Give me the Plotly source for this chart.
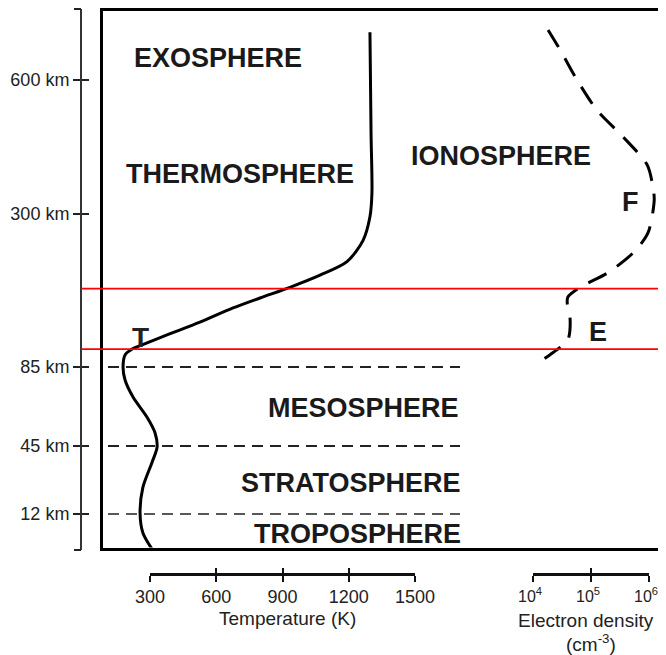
import numpy as np
import plotly.graph_objects as go

# ---------------- data ----------------
ALT_TICK_KM = [12, 45, 85, 300, 600]
ALT_TICK_LABELS = ["12 km", "45 km", "85 km", "300 km", "600 km"]

TEMP_TICKS_K = [300, 600, 900, 1200, 1500]
DENSITY_TICKS = [1e4, 1e5, 1e6]
DENSITY_TICK_LABELS = ["10<sup>4</sup>", "10<sup>5</sup>", "10<sup>6</sup>"]

# temperature profile (altitude km, temperature K)
TEMP_ALT_KM = [0, 5.5, 12.5, 25, 37, 44.5, 51.6, 59.7, 69.8, 78.4, 85, 102, 110, 116,
               130, 148, 168, 182, 197, 214, 233, 263, 296, 347, 481, 707]
TEMP_K = [309, 268, 255, 268, 309, 332, 323, 286, 223, 187, 178, 187, 218, 264,
          377, 526, 676, 798, 934, 1070, 1192, 1265, 1296, 1305, 1301, 1296]

# electron density profile (altitude km, cm^-3), from the top down
DENS_ALT_KM = [712, 667, 600, 533, 473, 410, 360, 331, 273, 245, 217, 197, 183, 175,
               151, 123, 105, 91]
DENS_CM3 = [1.82e4, 2.95e4, 5.75e4, 1.26e5, 3.55e5, 9.3e5, 1.17e6, 1.23e6, 9.55e5,
            5.25e5, 1.91e5, 6.46e4, 3.98e4, 3.89e4, 4.37e4, 3.98e4, 2.19e4, 1.23e4]

LAYER_BOUNDARY_KM = [12, 45, 85]
MARKED_ALT_KM = [110, 195]

LAYER_LABELS = ["EXOSPHERE", "THERMOSPHERE", "IONOSPHERE", "MESOSPHERE",
                "STRATOSPHERE", "TROPOSPHERE"]
REGION_LABELS = ["F", "E"]
TURBOPAUSE_LABEL = "T"

# ---------------- layout helpers (page pixels) ----------------
OFF = 8                      # default page margin around the figure
W, H = 666 - OFF, 655 - OFF  # figure size so that it ends at the window edge
FONT = "Liberation Sans, Arial, Helvetica, sans-serif"
TXT = "#222222"


def fx(px):
    return (px - OFF) / W


def fy(py):
    return 1 - (py - OFF) / H


# schematic (piecewise-linear) altitude scale: km -> page row
SCALE_KM = [0, 12, 45, 85, 300, 600, 761]
SCALE_ROW = [549, 514, 446, 367, 214, 80, 8]
GROUND = 549


def alt(km):
    return GROUND - np.interp(np.asarray(km, dtype=float), SCALE_KM, SCALE_ROW)


def yspan(top_row, bot_row):
    return dict(domain=[fy(bot_row), fy(top_row)], range=[GROUND - bot_row, GROUND - top_row])


# temperature scale: 300 K at px 150, 1500 K at px 415
KPP = 1200 / 265.0
FRAME_L = 103
T_RANGE = [300 + (FRAME_L - 150) * KPP, 300 + (666 - 150) * KPP]
# density scale (log): 1e4 at px 533, 1e6 at px 649
DPP = 2 / 116.0
D_RANGE = [4 + (FRAME_L - 533) * DPP, 4 + (666 - 533) * DPP]

fig = go.Figure()

fig.add_trace(go.Scatter(
    x=TEMP_K, y=alt(TEMP_ALT_KM), mode="lines", xaxis="x", yaxis="y",
    line=dict(color="black", width=3, shape="spline", smoothing=0.8),
    hoverinfo="skip", showlegend=False))

fig.add_trace(go.Scatter(
    x=DENS_CM3, y=alt(DENS_ALT_KM), mode="lines", xaxis="x2", yaxis="y",
    line=dict(color="black", width=3, dash="20px,13px", shape="spline", smoothing=0.8),
    hoverinfo="skip", showlegend=False))

# empty traces so that every decorative axis gets a subplot
for xa, ya in [("x3", "y"), ("x4", "y"), ("x5", "y"), ("x6", "y"),
               ("x", "y2"), ("x", "y3"), ("x", "y4")]:
    fig.add_trace(go.Scatter(x=[None], y=[None], xaxis=xa, yaxis=ya,
                             showlegend=False, hoverinfo="skip"))

tickfont = dict(family=FONT, size=18, color=TXT)
base = dict(showgrid=False, zeroline=False, fixedrange=True, automargin=False)

AX_ROWS = (9, 550)          # visible altitude axis extent (page rows)
alt_axis = dict(yspan(*AX_ROWS), anchor="free", position=fx(81), side="left")
end_vals = [GROUND - AX_ROWS[1], GROUND - AX_ROWS[0]]

temp_axis = dict(domain=[fx(150), fx(415)], range=[300, 1500], anchor="free",
                 position=fy(574), tickvals=TEMP_TICKS_K, ticklen=6, tickwidth=1.6,
                 tickcolor="#111")
dens_axis = dict(domain=[fx(533), fx(649)], type="log", range=[4, 6], anchor="free",
                 position=fy(574), tickvals=DENSITY_TICKS, ticklen=6, tickwidth=1.6,
                 tickcolor="#111")

fig.update_layout(
    width=W, height=H, margin=dict(l=0, r=0, t=0, b=0, pad=0),
    paper_bgcolor="white", plot_bgcolor="rgba(0,0,0,0)",
    showlegend=False,
    xaxis=dict(domain=[fx(FRAME_L), 1], range=T_RANGE, showline=True, mirror=True,
               linecolor="black", linewidth=3, ticks="", showticklabels=False, **base),
    xaxis2=dict(type="log", overlaying="x", range=D_RANGE, visible=False, **base),
    yaxis=dict(yspan(10.5, 547.5), showline=True, linecolor="black", linewidth=3,
               ticks="", showticklabels=False, **base),
    xaxis3=dict(temp_axis, showline=True, linewidth=2.5, linecolor="#111",
                ticks="outside", tickfont=tickfont, ticklabelstandoff=0, **base),
    xaxis4=dict(temp_axis, showline=False, ticks="inside", showticklabels=False, **base),
    xaxis5=dict(dens_axis, showline=True, linewidth=2.5, linecolor="#111",
                ticks="outside", ticktext=DENSITY_TICK_LABELS,
                tickfont=dict(family=FONT, size=16, color=TXT), ticklabelstandoff=1,
                ticklabelshift=-3, **base),
    xaxis6=dict(dens_axis, showline=False, ticks="inside", showticklabels=False, **base),
    yaxis2=dict(alt_axis, showline=True, linewidth=2, linecolor="#333",
                ticks="outside", ticklen=7, tickwidth=1.8, tickcolor="#222",
                tickvals=list(alt(ALT_TICK_KM)), ticktext=ALT_TICK_LABELS,
                tickfont=tickfont, **base),
    yaxis3=dict(alt_axis, showline=False, ticks="inside", ticklen=7, tickwidth=1.8,
                tickcolor="#222", tickvals=list(alt(ALT_TICK_KM)) + end_vals,
                showticklabels=False, **base),
    yaxis4=dict(alt_axis, showline=False, ticks="outside", ticklen=7, tickwidth=1.8,
                tickcolor="#222", tickvals=end_vals, showticklabels=False, **base),
)

# layer boundaries (dashed)
for km in LAYER_BOUNDARY_KM:
    fig.add_shape(type="line", xref="paper", yref="y", x0=fx(108), x1=fx(460),
                  y0=float(alt(km)), y1=float(alt(km)),
                  line=dict(color="#222", width=1.6 if km == 12 else 2.2, dash="11px,7px"))

# red marker lines
for km in MARKED_ALT_KM:
    fig.add_shape(type="line", xref="paper", yref="y", x0=fx(81), x1=1,
                  y0=float(alt(km)), y1=float(alt(km)),
                  line=dict(color="#ff0000", width=1.8))

# text labels
big = dict(family=FONT, size=27, color="#1a1a1a", weight="bold")
label_pos = {
    "EXOSPHERE": (218, 58, "center"),
    "THERMOSPHERE": (240, 174, "center"),
    "IONOSPHERE": (501, 156, "center"),
    "MESOSPHERE": (461, 408, "right"),
    "STRATOSPHERE": (463, 483, "right"),
    "TROPOSPHERE": (463, 534, "right"),
    "F": (630, 202, "center"),
    "E": (598, 332, "center"),
}
for name in LAYER_LABELS + REGION_LABELS:
    px, py, anc = label_pos[name]
    fig.add_annotation(text=name, xref="paper", yref="paper", x=fx(px), y=fy(py),
                       xanchor=anc, yanchor="middle", showarrow=False, font=big)

fig.add_annotation(text=TURBOPAUSE_LABEL, xref="paper", yref="paper", x=fx(140), y=fy(337),
                   xanchor="center", yanchor="middle", showarrow=False,
                   font=dict(family=FONT, size=28, color="#222", weight="bold"))

# axis titles
axt = dict(family=FONT, size=19, color=TXT)
fig.add_annotation(text="Temperature (K)", xref="paper", yref="paper", x=fx(287), y=fy(618),
                   xanchor="center", yanchor="middle", showarrow=False, font=axt)
fig.add_annotation(text="Electron density", xref="paper", yref="paper", x=fx(586), y=fy(620),
                   xanchor="center", yanchor="middle", showarrow=False, font=axt)
fig.add_annotation(text="(cm<sup>-3</sup>)", xref="paper", yref="paper", x=fx(591), y=fy(643),
                   xanchor="center", yanchor="middle", showarrow=False, font=axt)

fig.write_html("out.html")
